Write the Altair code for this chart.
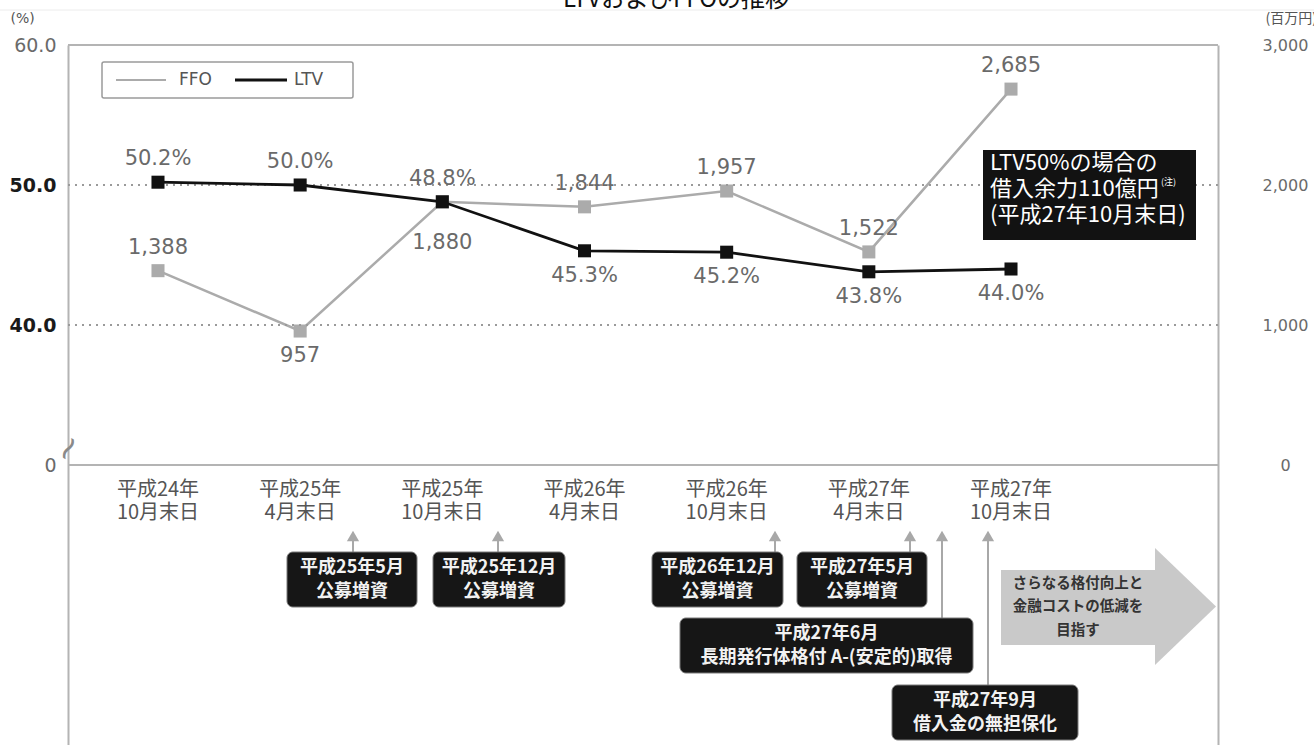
import altair as alt
import pandas as pd

# ---------------- data ----------------
title = "LTVおよびFFOの推移"
categories = ["平成24年 10月末日", "平成25年 4月末日", "平成25年 10月末日", "平成26年 4月末日",
              "平成26年 10月末日", "平成27年 4月末日", "平成27年 10月末日"]
ltv = [50.2, 50.0, 48.8, 45.3, 45.2, 43.8, 44.0]
ffo = [1388, 957, 1880, 1844, 1957, 1522, 2685]
series = ["FFO", "LTV"]
series_colors = ["#ababab", "#111111"]
left_ticks = [30, 40, 50, 60]          # 30 is displayed as "0" (broken axis)
right_ticks = [0, 1000, 2000, 3000]
gridlines = [40, 50]

# label placement (style, not data)
ltv_label_place = ["above", "above", "above", "below", "below", "below", "below"]
ffo_label_place = ["above", "below", "below2", "above", "above", "above", "above"]
label_dy = {"above": -23, "below": 25, "below2": 41}

# annotations (pixel positions inside the plot area)
event_texts = ["平成25年5月|公募増資", "平成25年12月|公募増資", "平成26年12月|公募増資",
               "平成27年5月|公募増資", "平成27年6月|長期発行体格付 A-(安定的)取得",
               "平成27年9月|借入金の無担保化"]
event_x = [219, 365, 584, 729, 612, 824]
event_x2 = [349, 497, 715, 859, 905, 1010]
event_y = [507, 507, 507, 507, 573, 640]
event_y2 = [562, 562, 562, 562, 628, 695]
arrow_x = [285, 430, 707, 842, 874, 920]
arrow_end = [507, 507, 507, 507, 573, 640]
goal_text = "さらなる格付向上と|金融コストの低減を|目指す"
ltv_box_text = "LTV50%の場合の|借入余力110億円|(平成27年10月末日)"

FONT_NUM = "DejaVu Sans"
FONT_JP = "Noto Sans CJK JP"
W, H = 1150, 700

df = pd.DataFrame({
    "i": list(range(len(categories))),
    "cat": categories,
    "ltv": ltv,
    "ffo": ffo,
    "ltv_place": ltv_label_place,
    "ffo_place": ffo_label_place,
    "ltv_lbl": [f"{v:.1f}%" for v in ltv],
    "ffo_lbl": [f"{v:,}" for v in ffo],
})

xscale = alt.Scale(domain=[-0.633, 7.456], nice=False, zero=False)
X = alt.X("i:Q", scale=xscale, axis=None)

cond_strong = "datum.value == 40 || datum.value == 50"
left_axis = alt.Axis(
    values=left_ticks,
    labelExpr="datum.value == 30 ? '0' : format(datum.value, '.1f')",
    ticks=False, tickSize=0, grid=False,
    domainColor="#b4b4b4", domainWidth=2,
    labelPadding=12, labelFontSize=19, labelFont=FONT_NUM,
    labelColor={"condition": {"test": cond_strong, "value": "#1a1a1a"}, "value": "#6a6a6a"},
    labelFontWeight={"condition": {"test": cond_strong, "value": "bold"}, "value": "normal"},
    labelOverlap=False,
    title="(%)", titleAngle=0, titleX=-58, titleY=-27, titleAlign="left",
    titleBaseline="middle", titleFontSize=14, titleFontWeight="normal",
    titleColor="#555555", titleFont=FONT_NUM,
)
right_axis = alt.Axis(
    orient="right", values=right_ticks, format=",d",
    ticks=False, tickSize=0, grid=False,
    domainColor="#b4b4b4", domainWidth=2,
    labelAlign="center", labelPadding=67, labelFontSize=16, labelFont=FONT_NUM,
    labelColor="#6a6a6a", labelOverlap=False,
    title="(百万円)", titleAngle=0, titleX=47, titleY=-27, titleAlign="left",
    titleBaseline="middle", titleFontSize=14, titleFontWeight="normal",
    titleColor="#555555", titleFont=FONT_JP,
)

lscale = alt.Scale(domain=[10, 60], nice=False, zero=False)
rscale = alt.Scale(domain=[-2000, 3000], nice=False, zero=False)
YL = alt.Y("ltv:Q", scale=lscale, axis=left_axis)
YR = alt.Y("ffo:Q", scale=rscale, axis=right_axis)

base = alt.Chart(df)

# ---- LTV group (left scale) ----
ltv_layers = []
for g in gridlines:
    ltv_layers.append(
        alt.Chart(df).mark_rule(strokeDash=[2, 5], color="#9a9a9a", strokeWidth=1.6)
        .encode(y=alt.YDatum(g, scale=lscale, axis=left_axis))
    )
ltv_layers.append(alt.Chart(df).mark_rule(color="#b4b4b4", strokeWidth=2)
                  .encode(y=alt.YDatum(min(left_ticks), scale=lscale, axis=left_axis)))
ltv_layers.append(alt.Chart(df).mark_rule(color="#b4b4b4", strokeWidth=2)
                  .encode(y=alt.YDatum(max(left_ticks), scale=lscale, axis=left_axis)))

# ---- FFO group (right scale) ----
ffo_layers = [
    base.mark_line(strokeWidth=2.5, color=series_colors[0]).encode(x=X, y=YR),
    base.mark_point(shape="square", filled=True, size=170, opacity=1, color=series_colors[0])
    .encode(x=X, y=YR),
]
for place, dy in label_dy.items():
    ffo_layers.append(
        base.transform_filter(alt.datum.ffo_place == place)
        .mark_text(dy=dy, fontSize=21, font=FONT_NUM, color="#6a6a6a")
        .encode(x=X, y=YR, text="ffo_lbl:N"))

ltv_layers += [
    base.mark_line(strokeWidth=2.8, color=series_colors[1]).encode(x=X, y=YL),
    base.mark_point(shape="square", filled=True, size=170, opacity=1, color=series_colors[1])
    .encode(x=X, y=YL),
]
for place, dy in label_dy.items():
    ltv_layers.append(
        base.transform_filter(alt.datum.ltv_place == place)
        .mark_text(dy=dy, fontSize=21, font=FONT_NUM, color="#6a6a6a")
        .encode(x=X, y=YL, text="ltv_lbl:N"))

# category labels under the zero line
ltv_layers.append(
    base.transform_calculate(lines="split(datum.cat, ' ')")
    .mark_text(baseline="middle", fontSize=20, font=FONT_JP, color="#555555", lineHeight=23)
    .encode(x=X, y=alt.value(445), text="lines:N"))

# ---- annotations (pixel space) ----
PX = lambda f: alt.X(f"{f}:Q", scale=None, axis=None)
PY = lambda f: alt.Y(f"{f}:Q", scale=None, axis=None)

ev = pd.DataFrame({"t": event_texts, "x": event_x, "x2": event_x2, "y": event_y, "y2": event_y2})
ev["cx"] = (ev.x + ev.x2) / 2
ev["cy"] = (ev.y + ev.y2) / 2 - 12      # first line centre (two lines, 24 px apart)
ar = pd.DataFrame({"x": arrow_x, "yh": [491] * len(arrow_x), "y2": arrow_end})

legend_df = pd.DataFrame({"name": series, "x": [48, 167], "x2": [98, 219], "tx": [111, 226],
                          "y": [35, 35], "w": [2.2, 3.2]})

ann_layers = [
    # legend
    alt.Chart(pd.DataFrame({"x": [34], "x2": [285], "y": [17], "y2": [53]}))
    .mark_rect(fill="white", stroke="#9a9a9a", strokeWidth=1.5, cornerRadius=2)
    .encode(x=PX("x"), x2="x2:Q", y=PY("y"), y2="y2:Q"),
    alt.Chart(legend_df).mark_rule()
    .encode(x=PX("x"), x2="x2:Q", y=PY("y"),
            color=alt.Color("name:N", scale=alt.Scale(domain=series, range=series_colors), legend=None),
            strokeWidth=alt.StrokeWidth("w:Q", scale=None)),
    alt.Chart(legend_df).mark_text(align="left", baseline="middle", fontSize=17, font=FONT_NUM,
                                   color="#555555")
    .encode(x=PX("tx"), y=PY("y"), text="name:N"),
    # arrows
    alt.Chart(ar).mark_rule(color="#a8a8a8", strokeWidth=2).encode(x=PX("x"), y=PY("yh"), y2="y2:Q"),
    alt.Chart(ar).mark_point(shape="triangle-up", filled=True, size=150, opacity=1, color="#a8a8a8")
    .encode(x=PX("x"), y=PY("yh")),
    # event boxes
    alt.Chart(ev).mark_rect(fill="#161616", stroke="#7a7a7a", strokeWidth=1, cornerRadius=6)
    .encode(x=PX("x"), x2="x2:Q", y=PY("y"), y2="y2:Q"),
    alt.Chart(ev).transform_calculate(lines="split(datum.t, '|')")
    .mark_text(fontSize=18, font=FONT_JP, fontWeight="bold", color="#f2f2f2", lineHeight=24,
               baseline="middle", align="center")
    .encode(x=PX("cx"), y=PY("cy"), text="lines:N"),
    # goal arrow
    alt.Chart(pd.DataFrame({"x": [933], "x2": [1087], "y": [525], "y2": [600]}))
    .mark_rect(fill="#c9c9c9").encode(x=PX("x"), x2="x2:Q", y=PY("y"), y2="y2:Q"),
    alt.Chart(pd.DataFrame({"x": [1087, 1148], "y": [503, 561.5], "y2": [620, 561.5]}))
    .mark_area(fill="#c9c9c9", opacity=1).encode(x=PX("x"), y=PY("y"), y2="y2:Q"),
    alt.Chart(pd.DataFrame({"t": [goal_text], "x": [1010], "y": [538.5]}))
    .transform_calculate(lines="split(datum.t, '|')")
    .mark_text(fontSize=14.5, font=FONT_JP, fontWeight="bold", color="#333333", lineHeight=23.5,
               baseline="middle", align="center")
    .encode(x=PX("x"), y=PY("y"), text="lines:N"),
    # LTV 50% box
    alt.Chart(pd.DataFrame({"x": [915], "x2": [1128], "y": [105], "y2": [195]}))
    .mark_rect(fill="#121212").encode(x=PX("x"), x2="x2:Q", y=PY("y"), y2="y2:Q"),
    alt.Chart(pd.DataFrame({"t": [ltv_box_text], "x": [922], "y": [118]}))
    .transform_calculate(lines="split(datum.t, '|')")
    .mark_text(fontSize=22, font=FONT_JP, color="#ffffff", lineHeight=26,
               baseline="middle", align="left")
    .encode(x=PX("x"), y=PY("y"), text="lines:N"),
    alt.Chart(pd.DataFrame({"t": ["(注)"], "x": [1093], "y": [137]}))
    .mark_text(fontSize=9, font=FONT_JP, color="#ffffff", align="left", baseline="middle")
    .encode(x=PX("x"), y=PY("y"), text="t:N"),
    # axis break mark
    alt.Chart(pd.DataFrame({"t": ["~"], "x": [1], "y": [404]}))
    .mark_text(fontSize=34, font=FONT_NUM, color="#8a8a8a", angle=300)
    .encode(x=PX("x"), y=PY("y"), text="t:N"),
    # title (cut off at top of page) and page line
    alt.Chart(pd.DataFrame({"t": [title], "x": [608], "y": [-38]}))
    .mark_text(fontSize=24, font=FONT_JP, color="#111111", baseline="alphabetic", align="center")
    .encode(x=PX("x"), y=PY("y"), text="t:N"),
    alt.Chart(pd.DataFrame({"x": [-68], "x2": [1246], "y": [-35]}))
    .mark_rule(color="#ececec", strokeWidth=1).encode(x=PX("x"), x2="x2:Q", y=PY("y")),
]

ffo_group = alt.layer(*ffo_layers)
ltv_group = alt.layer(*ltv_layers)
ann_group = alt.layer(*ann_layers)

chart = (
    alt.layer(ffo_group, ltv_group, ann_group)
    .resolve_scale(x="independent", y="independent")
    .properties(
        width=W, height=H,
        autosize=alt.AutoSizeParams(type="none"),
        padding={"left": 68, "top": 45, "right": 96, "bottom": 0},
        background="white",
    )
    .configure_view(strokeWidth=0)
)

chart.save("out.html", embed_options={"renderer": "svg", "actions": False})
